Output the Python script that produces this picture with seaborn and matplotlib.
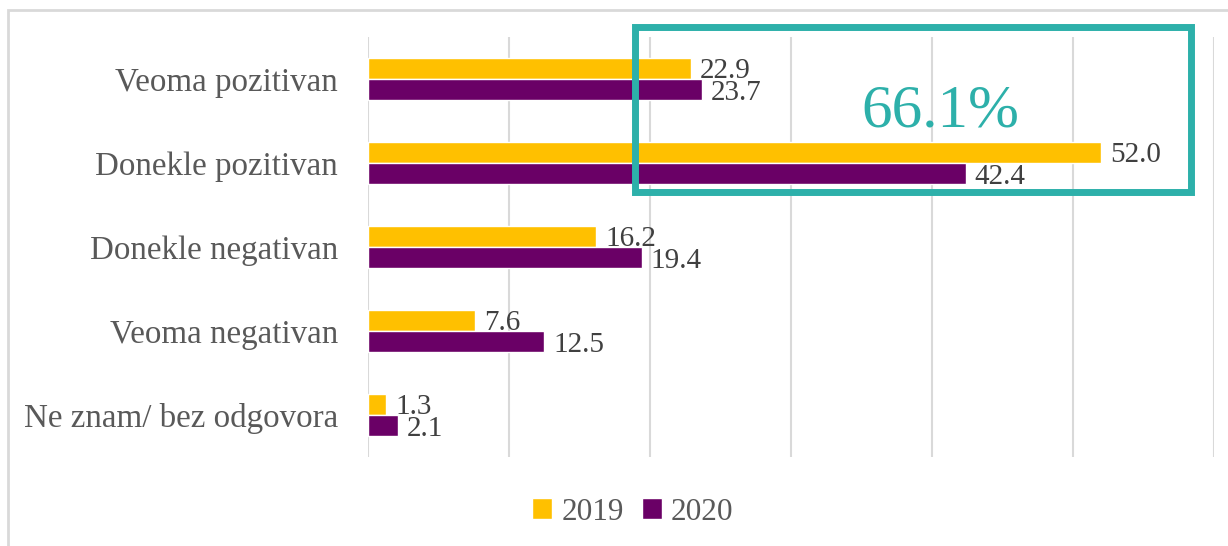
import matplotlib
matplotlib.use("Agg")
import matplotlib.pyplot as plt
import seaborn as sns
import pandas as pd
from matplotlib.patches import Rectangle

categories = ["Veoma pozitivan", "Donekle pozitivan", "Donekle negativan",
              "Veoma negativan", "Ne znam/ bez odgovora"]
years = ["2019", "2020"]
values_2019 = [22.9, 52.0, 16.2, 7.6, 1.3]
values_2020 = [23.7, 42.4, 19.4, 12.5, 2.1]
highlight_text = "66.1%"

df = pd.DataFrame({
    "category": categories * 2,
    "year": [years[0]] * len(categories) + [years[1]] * len(categories),
    "value": values_2019 + values_2020,
})

sns.set_style("white")
plt.rcParams["font.family"] = ["Liberation Serif", "DejaVu Serif"]

fig = plt.figure(figsize=(12.28, 5.46), dpi=100)
ax = fig.add_axes([368 / 1228, 1 - 457 / 546, (1214 - 368) / 1228, (457 - 37) / 546])

palette = {"2019": "#FFC000", "2020": "#6A0066"}
sns.barplot(data=df, y="category", x="value", hue="year", order=categories,
            hue_order=years, palette=palette, orient="h", width=0.5,
            saturation=1, ax=ax, legend=False, zorder=3)

ax.set_xlim(0, 60)
ax.set_ylim(4.5, -0.5)
ax.set_xticks(range(0, 61, 10))
ax.set_xticklabels([])
ax.grid(axis="x", color="#D9D9D9", linewidth=1.5, zorder=0)
ax.grid(axis="y", visible=False)
for s in ax.spines.values():
    s.set_visible(False)
ax.tick_params(axis="both", length=0)
ax.tick_params(axis="y", pad=21.5, labelsize=23.8, labelcolor="#595959")
ax.set_xlabel("")
ax.set_ylabel("")

# value labels
for container, vals in zip(ax.containers, [values_2019, values_2020]):
    labels = [f"{v:.1f}" for v in vals]
    texts = ax.bar_label(container, labels=labels, padding=6.5, fontsize=21,
                         color="#404040", zorder=5)
    for t in texts:
        t.set_verticalalignment("center_baseline")

# highlight box
rect = Rectangle((635 / 1228, 1 - 192 / 546), (1191 - 635) / 1228, (192 - 27) / 546,
                 transform=fig.transFigure, fill=False, edgecolor="#2DB0AA",
                 linewidth=5, zorder=10)
fig.patches.append(rect)
fig.text(940 / 1228, 1 - 112 / 546, highlight_text, ha="center", va="center",
         fontsize=44, color="#2DB0AA")

# outer frame
frame = Rectangle((8 / 1228, -0.1), 1.2, 1 - 10 / 546 + 0.1,
                  transform=fig.transFigure, fill=False, edgecolor="#D9D9D9",
                  linewidth=2)
fig.patches.append(frame)

# legend
handles = [Rectangle((0, 0), 1, 1, facecolor=palette[y]) for y in years]
leg = fig.legend(handles, years, loc="center", bbox_to_anchor=(633 / 1228, 1 - 512 / 546),
                 ncol=2, frameon=False, fontsize=22.5, handlelength=0.62, handleheight=0.62,
                 handletextpad=0.3, columnspacing=0.6, labelcolor="#595959")

fig.savefig("out.png", dpi=100)
